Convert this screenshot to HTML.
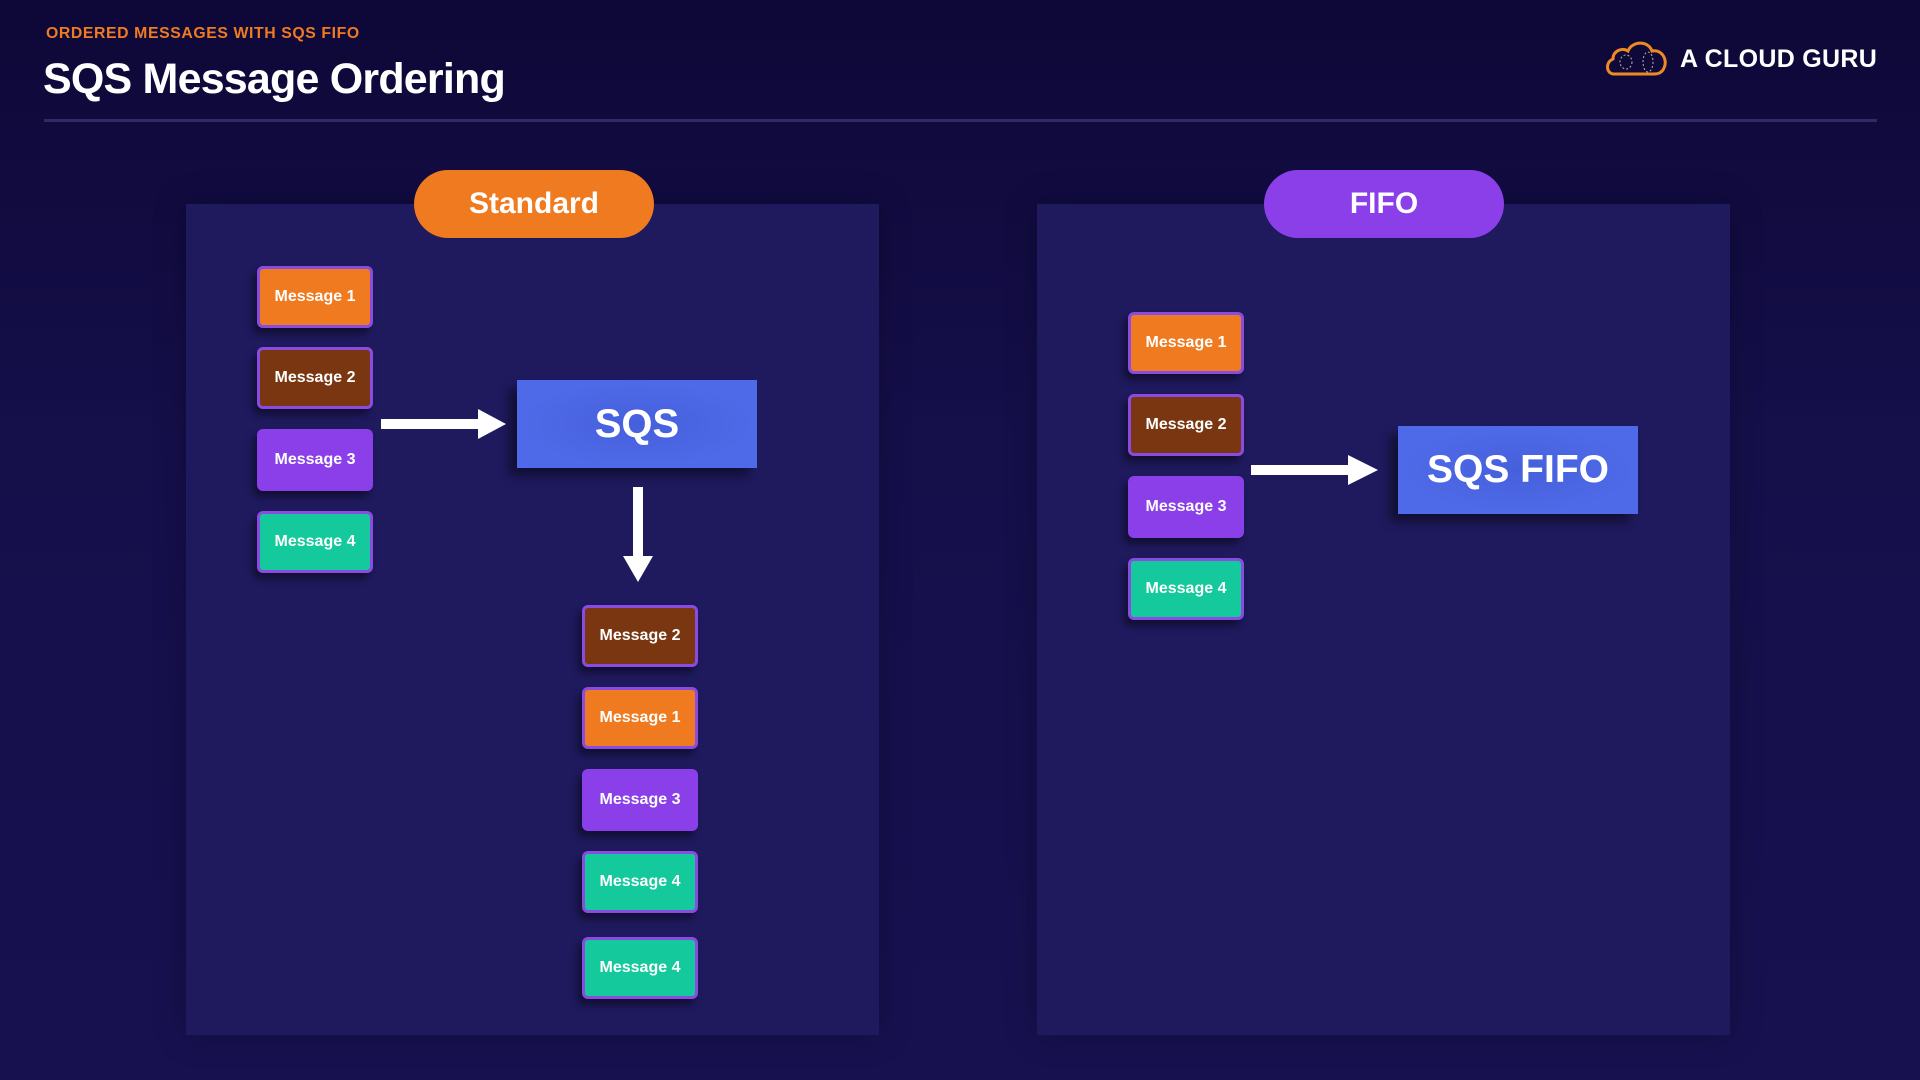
<!DOCTYPE html>
<html><head><meta charset="utf-8"><style>
*{margin:0;padding:0;box-sizing:border-box}
body{width:1920px;height:1080px;overflow:hidden;background:linear-gradient(180deg,#0e0838 0%,#150f4a 40%,#171150 100%);font-family:"Liberation Sans",sans-serif;position:relative}
.abs{position:absolute}
.sub{left:46px;top:25px;color:#ef7a22;font-weight:700;font-size:15.8px;letter-spacing:0.6px}
.title{left:43px;top:55px;color:#fff;font-weight:700;font-size:43px;letter-spacing:-0.8px}
.rule{left:44px;top:119px;width:1833px;height:3px;background:#2f2a6a}
.panel{background:#1f1a5e;top:204px;height:831px;width:693px;box-shadow:0 0 30px rgba(0,0,0,.25)}
.pill{top:170px;height:68px;width:240px;border-radius:34px;color:#fff;font-weight:700;font-size:30px;display:flex;align-items:center;justify-content:center}
.msg{width:116px;height:62px;border:3px solid #8a4be0;border-radius:6px;color:#fff;font-weight:700;font-size:16px;display:flex;align-items:center;justify-content:center;box-shadow:-4px 6px 8px rgba(0,0,0,.45)}
.o{background:#ef7a1f}.b{background:#7a3610}.p{background:#8a3fe8;border-color:#8a3fe8}.t{background:#14c99c}
.box{background:#4f6ae8;color:#fff;font-weight:700;display:flex;align-items:center;justify-content:center;box-shadow:-8px 8px 10px rgba(0,0,0,.45);background-image:radial-gradient(ellipse at center,#4660dc 0%,#4f6ae8 70%)}
</style></head><body>
<div class="abs sub">ORDERED MESSAGES WITH SQS FIFO</div>
<div class="abs title">SQS Message Ordering</div>
<div class="abs rule"></div>
<svg class="abs" style="left:1604px;top:38px" width="66" height="40" viewBox="0 0 66 40">
<path d="M10 36 C2 36 1 24 9 21 C9 13 18 9 24 13 C28 3 44 2 48 13 C58 11 64 22 60 30 C58 35 54 36 50 36 Z" fill="none" stroke="#ef8a22" stroke-width="3"/>
<ellipse cx="44" cy="24" rx="5" ry="10" fill="none" stroke="#c9b08a" stroke-width="1" stroke-dasharray="2 2"/>
<ellipse cx="22" cy="24" rx="6" ry="7" fill="none" stroke="#c9b08a" stroke-width="1" stroke-dasharray="2 2"/>
</svg>
<div class="abs" style="left:1680px;top:45px;color:#fff;font-weight:700;font-size:25px;letter-spacing:0.3px">A CLOUD GURU</div>

<div class="abs panel" style="left:186px"></div>
<div class="abs panel" style="left:1037px"></div>
<div class="abs pill" style="left:414px;background:#ef7a1f">Standard</div>
<div class="abs pill" style="left:1264px;background:#8a3fe8">FIFO</div>

<div class="abs msg o" style="left:257px;top:266px">Message 1</div>
<div class="abs msg b" style="left:257px;top:347px">Message 2</div>
<div class="abs msg p" style="left:257px;top:429px">Message 3</div>
<div class="abs msg t" style="left:257px;top:511px">Message 4</div>

<div class="abs box" style="left:517px;top:380px;width:240px;height:88px;font-size:40px">SQS</div>
<svg class="abs" style="left:0;top:0" width="1920" height="1080">
<polygon points="381,419 478,419 478,409 506,424 478,439 478,429 381,429" fill="#fff"/>
<polygon points="633,487 643,487 643,556 653,556 638,582 623,556 633,556" fill="#fff"/>
<polygon points="1251,465 1348,465 1348,455 1378,470 1348,485 1348,475 1251,475" fill="#fff"/>
</svg>

<div class="abs msg b" style="left:582px;top:605px">Message 2</div>
<div class="abs msg o" style="left:582px;top:687px">Message 1</div>
<div class="abs msg p" style="left:582px;top:769px">Message 3</div>
<div class="abs msg t" style="left:582px;top:851px">Message 4</div>
<div class="abs msg t" style="left:582px;top:937px">Message 4</div>

<div class="abs msg o" style="left:1128px;top:312px">Message 1</div>
<div class="abs msg b" style="left:1128px;top:394px">Message 2</div>
<div class="abs msg p" style="left:1128px;top:476px">Message 3</div>
<div class="abs msg t" style="left:1128px;top:558px">Message 4</div>

<div class="abs box" style="left:1398px;top:426px;width:240px;height:88px;font-size:39px">SQS FIFO</div>
</body></html>
